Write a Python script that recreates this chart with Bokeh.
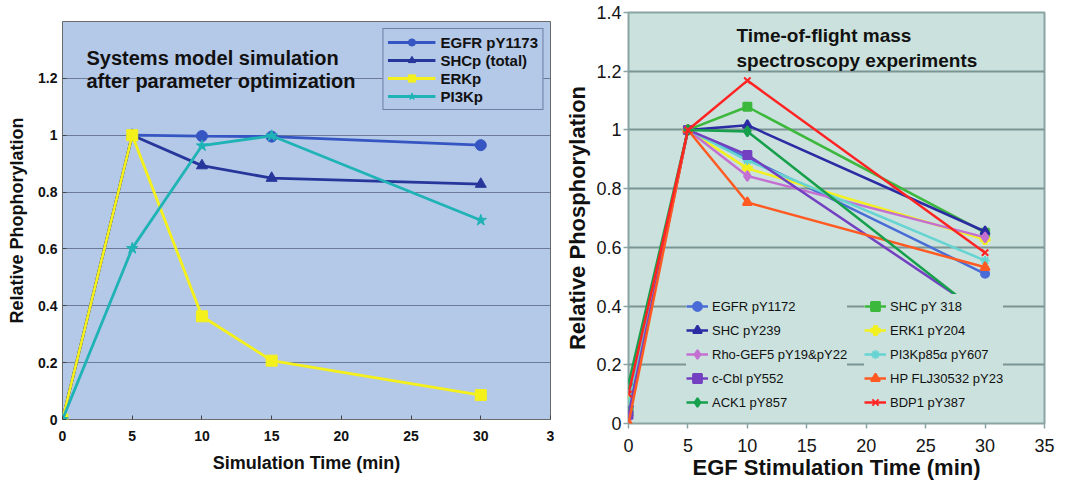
from bokeh.plotting import figure
from bokeh.layouts import row
from bokeh.models import Range1d, FixedTicker, Legend, LegendItem, Label
from bokeh.embed import file_html
from bokeh.resources import INLINE

# ---------------- Left panel: systems model simulation ----------------
sim_time = [0, 5, 10, 15, 30]
egfr_sim = [0, 1.0, 0.997, 0.995, 0.965]
shc_sim = [0, 1.0, 0.893, 0.849, 0.828]
erk_sim = [0, 1.0, 0.363, 0.207, 0.086]
pi3k_sim = [0, 0.602, 0.963, 0.998, 0.701]
sim_names = ["EGFR pY1173", "SHCp (total)", "ERKp", "PI3Kp"]

left_x_ticks = [0, 5, 10, 15, 20, 25, 30, 35]
left_x_labels = ["0", "5", "10", "15", "20", "25", "30", "3"]
left_y_ticks = [0, 0.2, 0.4, 0.6, 0.8, 1, 1.2]
left_y_labels = ["0", "0.2", "0.4", "0.6", "0.8", "1", "1.2"]

# ---------------- Right panel: TOF mass spectroscopy ----------------
exp_time = [0, 5, 10, 30]
egfr_exp = [0.055, 1.0, 0.905, 0.51]
shc239_exp = [0.065, 1.0, 1.016, 0.654]
rho_exp = [0.02, 1.0, 0.843, 0.634]
ccbl_exp = [0.03, 1.0, 0.915, 0.37]
ack1_exp = [0.135, 1.0, 0.995, 0.36]
shc318_exp = [0.04, 1.0, 1.079, 0.65]
erk1_exp = [0.08, 1.0, 0.869, 0.627]
pi3k85_exp = [0.07, 1.0, 0.896, 0.555]
hp_exp = [0.0, 1.0, 0.753, 0.532]
bdp1_exp = [0.10, 1.0, 1.168, 0.582]
exp_names = ["EGFR pY1172", "SHC pY239", "Rho-GEF5 pY19&pY22", "c-Cbl pY552", "ACK1 pY857",
             "SHC pY 318", "ERK1 pY204", "PI3Kp85\u03b1 pY607", "HP FLJ30532 pY23", "BDP1 pY387"]

right_x_ticks = [0, 5, 10, 15, 20, 25, 30, 35]
right_y_ticks = [0, 0.2, 0.4, 0.6, 0.8, 1, 1.2, 1.4]
right_y_labels = ["0", "0.2", "0.4", "0.6", "0.8", "1", "1.2", "1.4"]

FONT = "Liberation Sans"

# ======================= LEFT FIGURE =======================
p1 = figure(width=556, height=473, min_border_left=62, min_border_right=6,
            min_border_top=12, min_border_bottom=60,
            x_range=Range1d(0, 35), y_range=Range1d(0, 1.4),
            output_backend="svg", toolbar_location=None)
p1.margin = (9, 0, 0, 0)
p1.background_fill_color = "#b4c8e8"
p1.border_fill_color = "white"
p1.outline_line_color = "#6a6a6a"
p1.outline_line_width = 1
p1.xgrid.grid_line_color = None
p1.ygrid.grid_line_color = "#6c7a98"
p1.ygrid.grid_line_width = 1.2
p1.ygrid.ticker = FixedTicker(ticks=left_y_ticks)

for ax in (p1.xaxis[0], p1.yaxis[0]):
    ax.axis_line_color = None
    ax.major_tick_in = 4
    ax.major_tick_out = 0
    ax.minor_tick_line_color = None
    ax.major_tick_line_color = "#444444"
    ax.major_label_text_font = FONT
    ax.major_label_text_font_style = "bold"
    ax.major_label_text_color = "#111111"
    ax.axis_label_text_font = FONT
    ax.axis_label_text_font_style = "bold"
    ax.axis_label_text_color = "#111111"
    ax.axis_label_text_font_size = "18px"

p1.xaxis[0].ticker = FixedTicker(ticks=left_x_ticks)
p1.xaxis[0].major_label_overrides = {t: s for t, s in zip(left_x_ticks, left_x_labels)}
p1.xaxis[0].major_label_text_font_size = "14px"
p1.xaxis[0].major_label_standoff = 11
p1.xaxis[0].axis_label = "Simulation Time (min)"
p1.xaxis[0].axis_label_standoff = 9

p1.yaxis[0].ticker = FixedTicker(ticks=left_y_ticks)
p1.yaxis[0].major_label_overrides = {t: s for t, s in zip(left_y_ticks, left_y_labels)}
p1.yaxis[0].major_label_text_font_size = "14px"
p1.yaxis[0].major_label_standoff = 5
p1.yaxis[0].axis_label = "Relative Phophorylation"
p1.yaxis[0].axis_label_standoff = 8

sim_series = [egfr_sim, shc_sim, erk_sim, pi3k_sim]
sim_colors = ["#3556c2", "#27369a", "#f4f01c", "#1fb3b6"]
sim_markers = ["circle", "triangle", "square", "star"]
sim_sizes = [11, 11, 11, 12]
left_items = []
for name, ys, c, m, sz in zip(sim_names, sim_series, sim_colors, sim_markers, sim_sizes):
    lr = p1.line(sim_time, ys, line_color=c, line_width=2.8)
    sr = p1.scatter(sim_time, ys, marker=m, size=sz, fill_color=c, line_color=c)
    left_items.append(LegendItem(label=name, renderers=[lr, sr]))

leg_left = Legend(items=left_items, location="top_right", margin=7, padding=4, spacing=0,
                  label_height=18, glyph_height=18, glyph_width=48, label_standoff=5,
                  label_text_font=FONT, label_text_font_style="bold", label_text_font_size="15px",
                  label_text_color="#111111",
                  background_fill_color="#b4c8e8", background_fill_alpha=1,
                  border_line_color="#2a3560", border_line_width=1.2)
p1.add_layout(leg_left)

p1.add_layout(Label(x=1.72, y=1.271, text="Systems model simulation", text_font=FONT,
                    text_font_style="bold", text_font_size="20px", text_color="#111111",
                    text_baseline="alphabetic"))
p1.add_layout(Label(x=1.72, y=1.191, text="after parameter optimization", text_font=FONT,
                    text_font_style="bold", text_font_size="20px", text_color="#111111",
                    text_baseline="alphabetic"))

# ======================= RIGHT FIGURE =======================
p2 = figure(width=500, height=486, min_border_left=72, min_border_right=12,
            min_border_top=12, min_border_bottom=63,
            x_range=Range1d(0, 35), y_range=Range1d(0, 1.4),
            output_backend="svg", toolbar_location=None)
p2.background_fill_color = "#cbe1dd"
p2.border_fill_color = "white"
p2.outline_line_color = "#8aa4a4"
p2.outline_line_width = 2
p2.xgrid.grid_line_color = None
p2.ygrid.grid_line_color = "#7b9494"
p2.ygrid.grid_line_width = 2
p2.ygrid.ticker = FixedTicker(ticks=right_y_ticks)

for ax in (p2.xaxis[0], p2.yaxis[0]):
    ax.axis_line_color = None
    ax.major_tick_in = 0
    ax.major_tick_out = 5
    ax.minor_tick_line_color = None
    ax.major_tick_line_color = "#8aa4a4"
    ax.major_tick_line_width = 1.5
    ax.major_label_text_font = FONT
    ax.major_label_text_font_style = "normal"
    ax.major_label_text_color = "#151515"
    ax.major_label_text_font_size = "18px"
    ax.axis_label_text_font = FONT
    ax.axis_label_text_font_style = "bold"
    ax.axis_label_text_color = "#111111"
    ax.axis_label_text_font_size = "22px"

p2.xaxis[0].ticker = FixedTicker(ticks=right_x_ticks)
p2.xaxis[0].major_label_standoff = 10
p2.xaxis[0].axis_label = "EGF Stimulation Time (min)"
p2.xaxis[0].axis_label_standoff = 0

p2.yaxis[0].ticker = FixedTicker(ticks=right_y_ticks)
p2.yaxis[0].major_label_overrides = {t: s for t, s in zip(right_y_ticks, right_y_labels)}
p2.yaxis[0].major_label_standoff = 2
p2.yaxis[0].axis_label = "Relative Phosphorylation"
p2.yaxis[0].axis_label_standoff = 3

exp_series = [egfr_exp, shc239_exp, rho_exp, ccbl_exp, ack1_exp,
              shc318_exp, erk1_exp, pi3k85_exp, hp_exp, bdp1_exp]
exp_colors = ["#4a6cd6", "#2b2ba3", "#c46fd2", "#7440c2", "#16a04c",
              "#3cb83c", "#f2f020", "#66d4d2", "#ff5a22", "#ff2424"]
exp_markers = ["circle", "triangle", "diamond", "square", "diamond",
               "square", "plus", "asterisk", "triangle", "x"]
exp_sizes = [8, 9, 10, 8, 10, 8, 9, 9, 9, 9]
draw_order = [0, 5, 1, 6, 2, 7, 3, 8, 4, 9]
rends = {}
for i in draw_order:
    c = exp_colors[i]
    lr = p2.line(exp_time, exp_series[i], line_color=c, line_width=2.5)
    sr = p2.scatter(exp_time, exp_series[i], marker=exp_markers[i], size=exp_sizes[i],
                    fill_color=c, line_color=c, line_width=2)
    rends[i] = [lr, sr]

leg_kw = dict(orientation="vertical", margin=0, padding=8, spacing=0,
              label_height=24, glyph_height=24, glyph_width=22, label_standoff=4,
              label_text_font=FONT, label_text_font_size="13px", label_text_color="#111111",
              background_fill_color="#cbe1dd", background_fill_alpha=1,
              border_line_color=None)
leg_a = Legend(items=[LegendItem(label=exp_names[i], renderers=rends[i]) for i in range(5)],
               location=(58, 9), **leg_kw)
leg_b = Legend(items=[LegendItem(label=exp_names[i], renderers=rends[i]) for i in range(5, 10)],
               location=(236, 9), **leg_kw)
p2.add_layout(leg_a)
p2.add_layout(leg_b)

p2.add_layout(Label(x=9.09, y=1.321, text="Time-of-flight mass", text_font=FONT,
                    text_font_style="bold", text_font_size="19px", text_color="#111111",
                    text_baseline="alphabetic"))
p2.add_layout(Label(x=9.09, y=1.236, text="spectroscopy experiments", text_font=FONT,
                    text_font_style="bold", text_font_size="19px", text_color="#111111",
                    text_baseline="alphabetic"))

layout = row(p1, p2)
open("out.html", "w").write(file_html(layout, INLINE))
